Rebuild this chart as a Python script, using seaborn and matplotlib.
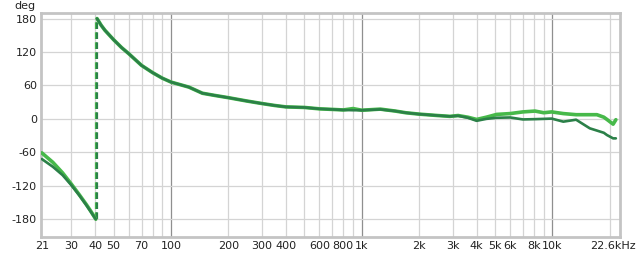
import numpy as np
import pandas as pd
import matplotlib
matplotlib.use("Agg")
import matplotlib.pyplot as plt
import matplotlib.transforms as mtransforms
from matplotlib.ticker import FixedLocator, NullFormatter
import seaborn as sns

# ---------------- data ----------------
series_names = ["Light", "Dark"]
series_colors = ["#47b94a", "#2b8048"]

# low branch (before phase wrap)
low_freq = [21, 24, 27, 30, 33, 36, 38, 40.3]
low_light = [-61, -78, -97, -117, -136, -154, -166, -180]
low_dark = [-72, -86, -101, -119, -137, -155, -167, -180]

# phase wrap frequencies
wrap_freq = [40.4, 40.9]

# high branch (after phase wrap)
high_freq = [40.9, 43, 45, 50, 55, 60, 70, 80, 90, 100, 124, 146, 170, 200,
             250, 300, 350, 400, 500, 600, 700, 800, 900, 1000, 1250, 1500,
             1700, 2000, 2500, 2900, 3200, 3600, 4000, 4500, 5100, 6000,
             7000, 8100, 9000, 9900, 11400, 13300, 15700, 17100, 18600,
             19300, 20800, 21500]
high_light = [180, 168, 159, 142, 128, 117, 96, 83, 73, 66, 57, 46, 42, 38,
              32, 27.5, 24, 21.5, 20.5, 18, 17, 16, 18.5, 15.5, 17.5, 14,
              11, 8.5, 6, 4.5, 6, 3, -1, 3, 8, 9.5,
              12.5, 14, 11, 12.5, 9.5, 7.5, 7.5, 7.5, 3,
              -1, -9.5, -1.5]
high_dark = [180, 168, 159, 142, 128, 117, 96, 83, 73, 66, 57, 46, 42, 38,
             32, 27.5, 24, 21.5, 20.5, 18, 17, 16, 15.5, 15.5, 17, 14,
             11, 8.5, 6, 4.5, 5.5, 2, -3.5, 0, 2, 2.5,
             -1, -0.5, 0, 0.5, -5, -1.5, -17, -21, -25,
             -29, -35, -35]

xtick_vals = [21, 30, 40, 50, 70, 100, 200, 300, 400, 600, 800, 1000,
              2000, 3000, 4000, 5000, 6000, 8000, 10000, 22600]
xtick_labels = ["21", "30", "40", "50", "70", "100", "200", "300", "400",
                "600", "800", "1k", "2k", "3k", "4k", "5k", "6k", "8k",
                "10k", "22.6kHz"]
ytick_vals = [180, 120, 60, 0, -60, -120, -180]

# ---------------- build tables ----------------
rows = []
for name, lowv, highv in zip(series_names, [low_light, low_dark],
                             [high_light, high_dark]):
    for f, v in zip(low_freq, lowv):
        rows.append((f, v, name, name + "_low"))
    for f, v in zip(high_freq, highv):
        rows.append((f, v, name, name + "_high"))
df = pd.DataFrame(rows, columns=["freq", "phase", "series", "seg"])

wrap_rows = []
for name, wf in zip(series_names, wrap_freq):
    wrap_rows.append((wf, -180, name, name))
    wrap_rows.append((wf, 180, name, name))
dfw = pd.DataFrame(wrap_rows, columns=["freq", "phase", "series", "seg"])

# ---------------- plot ----------------
sns.set_theme(style="white")
plt.rcParams["font.family"] = ["DejaVu Sans"]

fig = plt.figure(figsize=(6.4, 2.54), dpi=100)
ax = fig.add_axes([41 / 640, 1 - 237 / 254, (620 - 41) / 640, (237 - 13) / 254])

ax.set_xscale("log")
ax.set_xlim(20.8, 22600)
ax.set_ylim(-212, 190)

# grid lines
minor_grid = [30, 40, 50, 60, 70, 80, 90,
              200, 300, 400, 500, 600, 700, 800, 900,
              2000, 3000, 4000, 5000, 6000, 7000, 8000, 9000, 20000]
for g in minor_grid:
    ax.axvline(g, color="#d4d4d4", lw=0.9, zorder=0)
for g in [100, 1000, 10000]:
    ax.axvline(g, color="#8f8f8f", lw=0.9, zorder=0)
for g in ytick_vals:
    ax.axhline(g, color="#d4d4d4", lw=0.9, zorder=0)

palette = dict(zip(series_names, series_colors))
df_light = df[df["series"] == "Light"]
df_dark = df[df["series"] == "Dark"]
sns.lineplot(data=df_light, x="freq", y="phase", hue="series", units="seg",
             estimator=None, palette=palette, lw=2.6, ax=ax, legend=False,
             sort=False, zorder=3)
sns.lineplot(data=df_dark, x="freq", y="phase", hue="series", units="seg",
             estimator=None, palette=palette, lw=1.9, ax=ax, legend=False,
             sort=False, zorder=4)
sns.lineplot(data=dfw, x="freq", y="phase", hue="series", units="seg",
             estimator=None, palette=palette, lw=1.6, ax=ax, legend=False,
             sort=False, zorder=2, linestyle=(0, (3, 1.5)))

ax.xaxis.set_major_locator(FixedLocator(xtick_vals))
ax.set_xticklabels(xtick_labels)
ax.xaxis.set_minor_locator(FixedLocator([]))
ax.xaxis.set_minor_formatter(NullFormatter())
ax.set_yticks(ytick_vals)
ax.set_yticklabels([str(v) for v in ytick_vals])
ax.tick_params(axis="both", length=0, labelsize=8, colors="#222222", pad=3)
ax.set_xlabel("")
ax.set_ylabel("")

# shift last label left so it fits
lbl = ax.get_xticklabels()[-1]
lbl.set_transform(lbl.get_transform() +
                  mtransforms.ScaledTranslation(-7 / 100, 0, fig.dpi_scale_trans))

for sp in ax.spines.values():
    sp.set_color("#c4c4c4")
    sp.set_linewidth(2)

fig.text(25 / 640, 1 - 6 / 254, "deg", fontsize=8, color="#222222",
         ha="center", va="center")

fig.savefig("out.png", dpi=100)
